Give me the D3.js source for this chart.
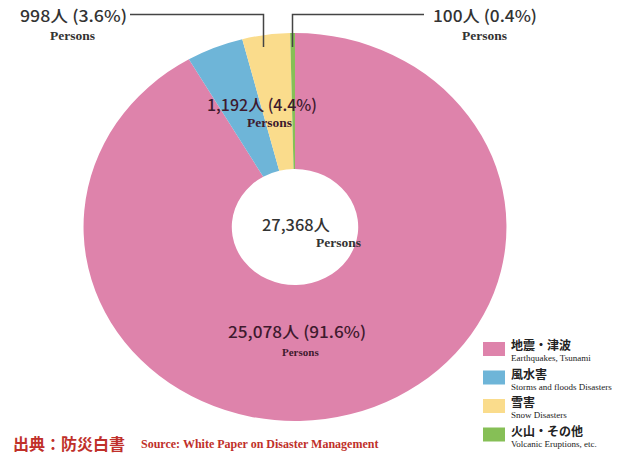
<!DOCTYPE html>
<html><head><meta charset="utf-8">
<script src="https://cdn.jsdelivr.net/npm/d3@7"></script>
<style>body{margin:0;background:#fff}svg{display:block}</style>
</head><body>
<svg id="c" width="628" height="456"></svg>
<script>
const categoriesJa = ["地震・津波", "風水害", "雪害", "火山・その他"];
const categoriesEn = ["Earthquakes, Tsunami", "Storms and floods Disasters", "Snow Disasters", "Volcanic Eruptions, etc."];
const values = [25078, 1192, 998, 100];
const percents = ["91.6%", "4.4%", "3.6%", "0.4%"];
const totalLabel = "27,368人";
const colors = ["#de83ab", "#6eb5d8", "#fadc8c", "#86bf56"];

const svg = d3.select("#c");
const cx = 295, cy = 227, R = 194, r0 = 58, sx = 1.09;
const fmt = d3.format(",");
const pie = d3.pie().sort(null).value(d => d)(values);
const arc = d3.arc().innerRadius(r0).outerRadius(R);
const g = svg.append("g").attr("transform", `translate(${cx},${cy}) scale(${sx},1)`);
g.selectAll("path").data(pie).join("path").attr("d", arc).attr("fill", (d, i) => colors[i]);

const sans = "'Noto Sans CJK JP','Noto Sans',sans-serif";
const serif = "'Liberation Serif','DejaVu Serif',serif";
function label(x, y, main, w, col, sub, subx, suby, subSize) {
  svg.append("text").attr("x", x).attr("y", y).attr("font-family", sans).attr("font-size", 16)
    .attr("font-weight", 500).attr("textLength", w).attr("lengthAdjust", "spacingAndGlyphs")
    .attr("fill", col).text(main);
  svg.append("text").attr("x", subx).attr("y", suby).attr("font-family", serif).attr("font-weight", "bold")
    .attr("font-size", subSize).attr("fill", col).text(sub);
}
const dark = "#333", inner = "#3e1a2e";
label(20, 22, `${fmt(values[2])}人 (${percents[2]})`, 107, dark, "Persons", 50, 40, 13.5);
label(433, 22, `${fmt(values[3])}人 (${percents[3]})`, 104, dark, "Persons", 462, 40, 13.5);
label(207, 111, `${fmt(values[1])}人 (${percents[1]})`, 110, inner, "Persons", 247, 127, 13.5);
label(228, 338, `${fmt(values[0])}人 (${percents[0]})`, 138, inner, "Persons", 282, 356, 11);
label(262, 231, totalLabel, 68, dark, "Persons", 316, 247, 13.5);

// leader lines
svg.append("path").attr("d", "M130,14.5H263.5V47").attr("fill", "none").attr("stroke", "#444").attr("stroke-width", 1.5);
svg.append("path").attr("d", "M424,14.5H292.5V47").attr("fill", "none").attr("stroke", "#444").attr("stroke-width", 1.5);

// legend
const lg = svg.append("g").attr("transform", "translate(483,342)");
categoriesJa.forEach((c, i) => {
  const y = i * 28.5;
  lg.append("rect").attr("x", 0).attr("y", y).attr("width", 22).attr("height", 14).attr("fill", colors[i]);
  lg.append("text").attr("x", 28).attr("y", y + 8).attr("font-family", sans).attr("font-weight", "bold")
    .attr("font-size", 12).attr("fill", "#222").text(c);
  lg.append("text").attr("x", 28).attr("y", y + 19).attr("font-family", serif)
    .attr("font-size", 9).attr("fill", "#222").text(categoriesEn[i]);
});

// source
svg.append("text").attr("x", 13).attr("y", 450).attr("font-family", sans).attr("font-weight", "bold")
  .attr("font-size", 16).attr("fill", "#c0302a").text("出典：防災白書");
svg.append("text").attr("x", 141).attr("y", 448).attr("font-family", serif).attr("font-weight", "bold")
  .attr("font-size", 12).attr("fill", "#c0302a").text("Source: White Paper on Disaster Management");
</script>
</body></html>
